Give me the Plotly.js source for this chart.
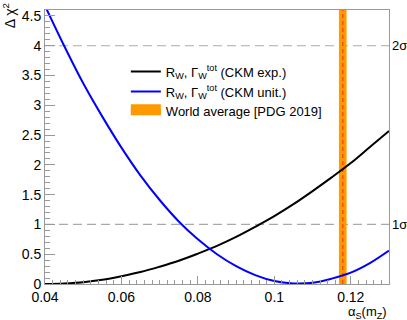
<!DOCTYPE html>
<html>
<head>
<meta charset="utf-8">
<script src="https://cdn.plot.ly/plotly-3.0.1.min.js"></script>
<style>
  html, body { margin: 0; padding: 0; background: #fff; }
  #plot { width: 407px; height: 320px; }
</style>
</head>
<body>
<div id="plot"></div>
<script>
// alpha_s(mZ) scan points
var alphaS = [0.040, 0.045, 0.050, 0.055, 0.060, 0.065, 0.070, 0.075, 0.080, 0.085,
              0.090, 0.095, 0.100, 0.105, 0.110, 0.115, 0.120, 0.125, 0.130];
// delta chi2, CKM exp.
var chi2Exp = [0.00, 0.01, 0.03, 0.07, 0.13, 0.20, 0.29, 0.39, 0.51, 0.64,
               0.79, 0.96, 1.14, 1.34, 1.56, 1.79, 2.03, 2.30, 2.57];
// delta chi2, CKM unitarity
var chi2Unit = [4.67, 4.00, 3.37, 2.81, 2.29, 1.82, 1.41, 1.05, 0.75, 0.50,
                0.30, 0.15, 0.05, 0.01, 0.02, 0.09, 0.19, 0.35, 0.56];
// world average PDG 2019
var wa = 0.1179, waErr = 0.0010;
var sigmaLevels = [1, 4];
var sigmaLabels = ['1σ', '2σ'];

var xTicks = [0.04, 0.06, 0.08, 0.10, 0.12];
var xTickText = ['0.04', '0.06', '0.08', '0.1', '0.12'];

var font = 'Liberation Sans, Arial, sans-serif';

var band = {
    x: [wa - waErr, wa + waErr, wa + waErr, wa - waErr, wa - waErr],
    y: [0, 0, 4.6, 4.6, 0],
    type: 'scatter', mode: 'lines', fill: 'toself',
    fillcolor: '#ff9900', line: {width: 0, color: '#ff9900'},
    showlegend: false
};
// legend-only entry for the band (drawn as a wide box)
var bandKey = {
    x: [wa], y: [null], type: 'scatter', mode: 'lines', fill: 'toself',
    fillcolor: '#ff9900', line: {width: 10, color: '#ff9900'},
    name: 'World average [PDG 2019]', legendrank: 3, hoverinfo: 'skip'
};
var center = {
    x: [wa, wa], y: [0, 4.6], type: 'scatter', mode: 'lines',
    line: {color: '#ff4a00', width: 1.5, dash: '4px,3px'},
    showlegend: false
};
var exp = {
    x: alphaS, y: chi2Exp, type: 'scatter', mode: 'lines',
    line: {color: '#000000', width: 2, shape: 'spline'},
    name: 'R<sub>W</sub>, Γ<sub>W</sub><sup>tot</sup> (CKM exp.)', legendrank: 1
};
var unit = {
    x: alphaS, y: chi2Unit, type: 'scatter', mode: 'lines',
    line: {color: '#0000ff', width: 2, shape: 'spline'},
    name: 'R<sub>W</sub>, Γ<sub>W</sub><sup>tot</sup> (CKM unit.)', legendrank: 2
};

var shapes = sigmaLevels.map(function (v) {
    return {type: 'line', xref: 'paper', x0: 0, x1: 1, yref: 'y', y0: v, y1: v,
            line: {color: '#aaaaaa', width: 1.2, dash: '9px,5px'}, layer: 'below'};
});

var annotations = sigmaLevels.map(function (v, i) {
    return {xref: 'paper', x: 1, xanchor: 'left', xshift: 1, yref: 'y', y: v,
            yanchor: 'middle', text: sigmaLabels[i], showarrow: false,
            font: {family: font, size: 13, color: '#000'}};
});
annotations.push({
    xref: 'paper', x: 1, xanchor: 'right', yref: 'paper', y: 0, yanchor: 'top',
    yshift: -18, text: 'α<sub>S</sub>(m<sub>Z</sub>)', showarrow: false,
    font: {family: font, size: 13, color: '#000'}
});
annotations.push({
    xref: 'paper', x: 0, xanchor: 'right', xshift: -25, yref: 'paper', y: 1.03,
    yanchor: 'top', textangle: -90, text: 'Δ χ<sup>2</sup>', showarrow: false,
    font: {family: font, size: 14, color: '#000'}
});

var layout = {
    width: 407, height: 320,
    margin: {l: 45, r: 18, t: 10, b: 36, pad: 0},
    paper_bgcolor: '#fff', plot_bgcolor: '#fff',
    font: {family: font, size: 14, color: '#000'},
    showlegend: true,
    legend: {
        x: 0.235, y: 0.83, xanchor: 'left', yanchor: 'top',
        bgcolor: 'rgba(255,255,255,0)', font: {family: font, size: 13},
        traceorder: 'normal', itemwidth: 30, tracegroupgap: 0
    },
    xaxis: {
        range: [0.04, 0.13], showgrid: false, zeroline: false,
        tickvals: xTicks, ticktext: xTickText,
        ticks: 'inside', ticklen: 8, tickcolor: '#999', tickwidth: 1,
        minor: {dtick: 0.002, tick0: 0.04, ticks: 'inside', ticklen: 4, tickcolor: '#999', showgrid: false},
        showline: true, linecolor: '#999', linewidth: 1, mirror: true,
        tickfont: {family: font, size: 14}
    },
    yaxis: {
        range: [0, 4.6], showgrid: false, zeroline: false,
        dtick: 0.5, tick0: 0,
        ticks: 'inside', ticklen: 10, tickcolor: '#999', tickwidth: 1,
        minor: {dtick: 0.1, ticks: 'inside', ticklen: 5, tickcolor: '#999', showgrid: false},
        showline: true, linecolor: '#999', linewidth: 1, mirror: true,
        tickfont: {family: font, size: 14}
    },
    shapes: shapes,
    annotations: annotations
};

var config = {displayModeBar: false, staticPlot: true};

Plotly.newPlot('plot', [band, center, exp, unit, bandKey], layout, config);
</script>
</body>
</html>
